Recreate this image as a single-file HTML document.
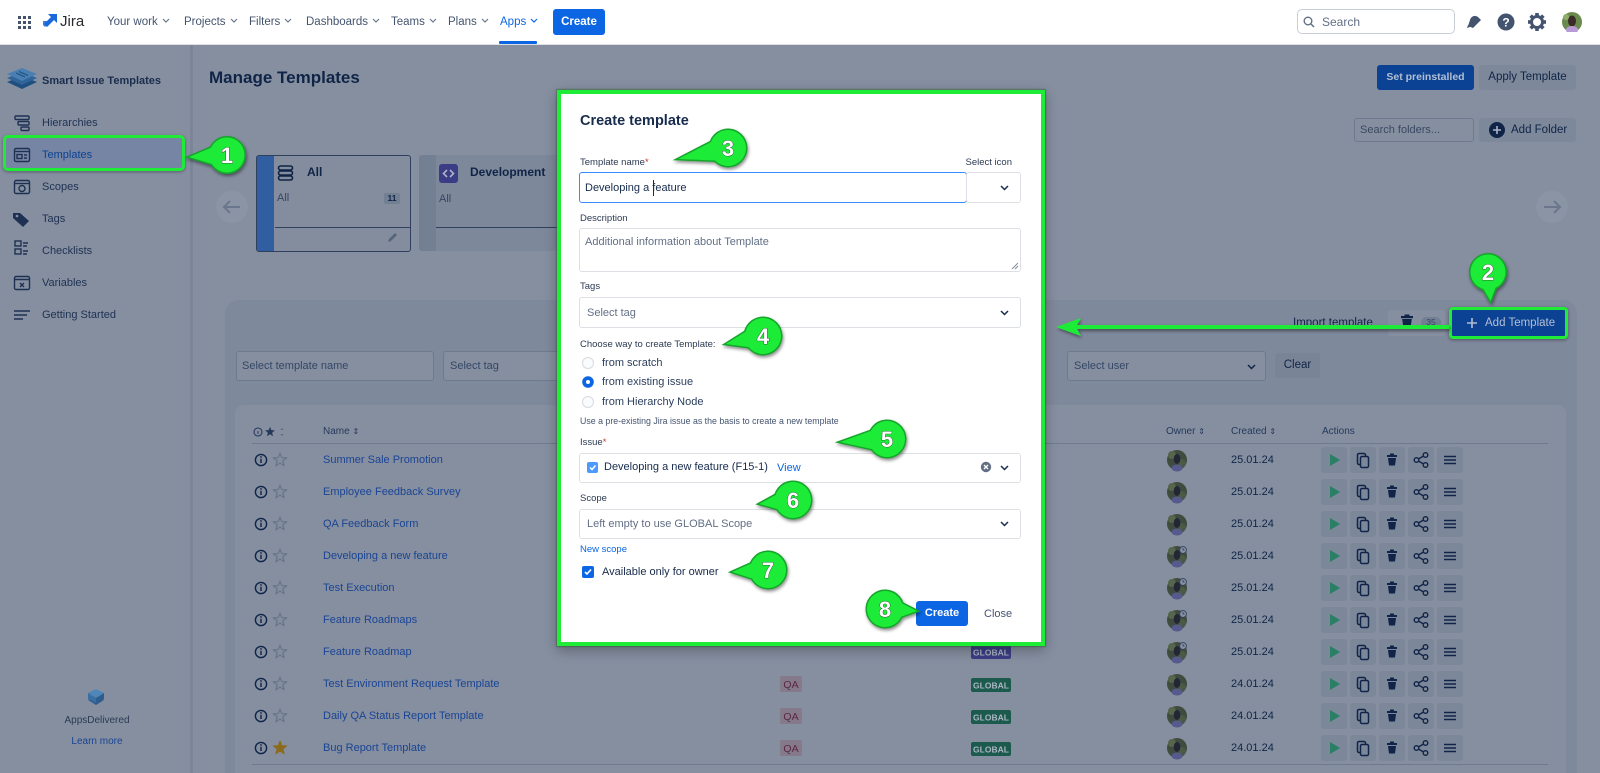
<!DOCTYPE html>
<html><head><meta charset="utf-8"><title>Create template</title>
<style>
*{margin:0;padding:0;box-sizing:border-box}
html,body{width:1600px;height:773px;overflow:hidden}
body{position:relative;background:#858fa0;font-family:"Liberation Sans",Arial,sans-serif;color:#102447}
.a{position:absolute}
.t{position:absolute;white-space:nowrap;line-height:14px;height:14px}
.nav{font-size:11.5px;color:#44546f}
.sb{font-size:11px;color:#1f3152}
.nm{font-size:11px;color:#1a4494}
.dt{font-size:11px;color:#102447}
.hd{font-size:10px;color:#26395a}
.lb{font-size:9.5px;color:#2c3a52}
.in{position:absolute;background:#fff;border:1px solid #dcdfe4;border-radius:3px}
.mt{font-size:11px;color:#172b4d}
.ph{font-size:11px;color:#626f86}
.fi{position:absolute;border:1px solid #6e7a8f;border-radius:3px;background:#858fa0}
.gbtn{position:absolute;background:#7d889a;border-radius:3px;font-size:11.5px;color:#102447;text-align:center}
</style></head><body>

<!-- top nav -->
<div class="a" style="left:0;top:0;width:1600px;height:45px;background:#fff;border-bottom:1px solid #dcdfe4"></div>
<svg class="a" style="left:18px;top:16px" width="13" height="13"><g fill="#44546f"><rect x="0" y="0" width="3" height="3"/><rect x="5" y="0" width="3" height="3"/><rect x="10" y="0" width="3" height="3"/><rect x="0" y="5" width="3" height="3"/><rect x="5" y="5" width="3" height="3"/><rect x="10" y="5" width="3" height="3"/><rect x="0" y="10" width="3" height="3"/><rect x="5" y="10" width="3" height="3"/><rect x="10" y="10" width="3" height="3"/></g></svg>
<svg class="a" style="left:41px;top:13px" width="17" height="18"><g fill="#1868db"><path d="M7 1h9v9l-3-3-7 7-3-3 7-7z"/><path d="M2 8h6v2l-4 4-2-2z" opacity=".85"/></g></svg>
<div class="t" style="left:60px;top:14px;font-size:15px;line-height:16px;height:16px;color:#292a2e">Jira</div>
<div class="t nav" style="left:107px;top:15px">Your work<svg width="8" height="5" style="margin-left:4px;vertical-align:2px"><path d="M1 1l3 3 3-3" fill="none" stroke="#6b778c" stroke-width="1.2"/></svg></div>
<div class="t nav" style="left:184px;top:15px">Projects<svg width="8" height="5" style="margin-left:4px;vertical-align:2px"><path d="M1 1l3 3 3-3" fill="none" stroke="#6b778c" stroke-width="1.2"/></svg></div>
<div class="t nav" style="left:249px;top:15px">Filters<svg width="8" height="5" style="margin-left:4px;vertical-align:2px"><path d="M1 1l3 3 3-3" fill="none" stroke="#6b778c" stroke-width="1.2"/></svg></div>
<div class="t nav" style="left:306px;top:15px">Dashboards<svg width="8" height="5" style="margin-left:4px;vertical-align:2px"><path d="M1 1l3 3 3-3" fill="none" stroke="#6b778c" stroke-width="1.2"/></svg></div>
<div class="t nav" style="left:391px;top:15px">Teams<svg width="8" height="5" style="margin-left:4px;vertical-align:2px"><path d="M1 1l3 3 3-3" fill="none" stroke="#6b778c" stroke-width="1.2"/></svg></div>
<div class="t nav" style="left:448px;top:15px">Plans<svg width="8" height="5" style="margin-left:4px;vertical-align:2px"><path d="M1 1l3 3 3-3" fill="none" stroke="#6b778c" stroke-width="1.2"/></svg></div>
<div class="t nav" style="left:500px;top:15px;color:#0c66e4">Apps<svg width="8" height="5" style="margin-left:4px;vertical-align:2px"><path d="M1 1l3 3 3-3" fill="none" stroke="#0c66e4" stroke-width="1.2"/></svg></div>
<div class="a" style="left:499px;top:41px;width:38px;height:3px;background:#0c66e4;border-radius:1px"></div>
<div class="a" style="left:553px;top:9px;width:52px;height:26px;background:#0c66e4;border-radius:3px;color:#fff;font-size:11.5px;font-weight:bold;line-height:26px;text-align:center">Create</div>

<div class="a" style="left:1297px;top:9px;width:158px;height:25px;border:1px solid #c9ced6;border-radius:5px;background:#fff"></div>
<svg class="a" style="left:1303px;top:16px" width="12" height="12"><circle cx="5" cy="5" r="3.8" fill="none" stroke="#626f86" stroke-width="1.4"/><path d="M8 8l3 3" stroke="#626f86" stroke-width="1.5"/></svg>
<div class="t" style="left:1322px;top:15px;font-size:12px;color:#626f86">Search</div>
<svg class="a" style="left:1464px;top:12px" width="20" height="20"><path d="M4 14l2-6a5 5 0 0 1 8 -3l3 3-8 8z" fill="#44546f"/><path d="M3 16l3-1-2-2z" fill="#44546f"/></svg>
<svg class="a" style="left:1497px;top:13px" width="18" height="18"><circle cx="9" cy="9" r="8.5" fill="#44546f"/><text x="9" y="13.5" text-anchor="middle" font-family="Liberation Sans" font-weight="bold" font-size="12" fill="#fff">?</text></svg>
<svg class="a" style="left:1528px;top:13px" width="18" height="18"><g transform="translate(9,9)"><circle r="5.5" fill="none" stroke="#44546f" stroke-width="3"/><g fill="#44546f"><rect x="-1.8" y="-9" width="3.6" height="4"/><rect x="-1.8" y="5" width="3.6" height="4"/><rect x="-9" y="-1.8" width="4" height="3.6"/><rect x="5" y="-1.8" width="4" height="3.6"/><rect x="-1.8" y="-9" width="3.6" height="4" transform="rotate(45)"/><rect x="-1.8" y="5" width="3.6" height="4" transform="rotate(45)"/><rect x="-9" y="-1.8" width="4" height="3.6" transform="rotate(45)"/><rect x="5" y="-1.8" width="4" height="3.6" transform="rotate(45)"/></g></g></svg>
<svg class="a" style="left:1562px;top:12px" width="20" height="20"><circle cx="10" cy="10" r="10" fill="#6b8a4e"/><ellipse cx="10" cy="9" rx="4" ry="5.5" fill="#3a2a28"/><ellipse cx="10" cy="18" rx="6" ry="4" fill="#b79ad6"/><circle cx="4" cy="5" r="3" fill="#8fae6a"/></svg>

<!-- sidebar -->
<div class="a" style="left:190px;top:45px;width:3px;height:728px;background:#7b8597"></div>
<svg class="a" style="left:7px;top:67px" width="31" height="25"><polygon points="15,9 30,15 15,22 0,15" fill="#1f4f80"/><polygon points="15,5 30,11 15,18 0,11" fill="#2f6399"/><polygon points="15,1 30,7 15,14 0,7" fill="#4a7fb3"/><path d="M9 6l9 4M12 4.5l9 4" stroke="#1f4f80" stroke-width="1.2"/></svg>
<div class="t" style="left:42px;top:74px;font-size:11px;font-weight:bold;color:#1b2c4c">Smart Issue Templates</div>

<div class="a" style="left:3px;top:135px;width:182px;height:36px;border:3px solid #1fec37;border-radius:5px;background:#7685a3;box-shadow:0 1px 3px rgba(0,0,0,.35)"></div>

<svg class="a" style="left:0;top:100px" width="40" height="230">
<g fill="none" stroke="#1f3152" stroke-width="1.4">
<rect x="15" y="16" width="14" height="3.5" rx="1"/><rect x="18" y="21.5" width="11" height="3.5" rx="1"/><rect x="21" y="27" width="8" height="3.5" rx="1"/>
<rect x="14.5" y="48.5" width="15" height="13" rx="1.5"/><path d="M14.5 51.5h15"/><rect x="17" y="54.5" width="5" height="4"/><path d="M24 55h3M24 58h3"/>
<rect x="14.5" y="80.5" width="15" height="13" rx="1.5"/><path d="M14.5 83.5h15"/><circle cx="22" cy="88.5" r="3"/>
<rect x="15" y="141" width="6" height="5"/><rect x="15" y="149" width="6" height="5"/><path d="M23 143h5M23 146h4M23 151h5M23 154h4"/>
<rect x="14.5" y="176.5" width="15" height="13" rx="1.5"/><path d="M14.5 179.5h15M20 183l4 4M24 183l-4 4"/>
<path d="M14 211h16M14 215h13M14 219h9"/>
</g>
<path d="M13 113h7l9 8-6 6-10-9z" fill="#1f3152"/><circle cx="17" cy="116" r="1.3" fill="#858fa0"/>
</svg>

<div class="t sb" style="left:42px;top:116px">Hierarchies</div>
<div class="t sb" style="left:42px;top:148px;color:#0b4293">Templates</div>
<div class="t sb" style="left:42px;top:180px">Scopes</div>
<div class="t sb" style="left:42px;top:212px">Tags</div>
<div class="t sb" style="left:42px;top:244px">Checklists</div>
<div class="t sb" style="left:42px;top:276px">Variables</div>
<div class="t sb" style="left:42px;top:308px">Getting Started</div>

<svg class="a" style="left:87px;top:688px" width="18" height="20"><polygon points="9,8 17,12 9,17 1,12" fill="#2c5d8e"/><polygon points="9,1 17,5 9,10 1,5" fill="#4f86b8"/><polygon points="1,5 9,10 9,15 1,11" fill="#3a6fa3"/><polygon points="17,5 9,10 9,15 17,11" fill="#2c5d8e"/></svg>
<div class="t" style="left:47px;top:714px;width:100px;text-align:center;font-size:10px;color:#2b3a55">AppsDelivered</div>
<div class="t" style="left:47px;top:735px;width:100px;text-align:center;font-size:10px;color:#1a4494">Learn more</div>

<!-- main header -->
<div class="t" style="left:209px;top:68px;height:20px;line-height:20px;font-size:17px;font-weight:bold;color:#102447">Manage Templates</div>
<div class="a" style="left:1377px;top:65px;width:97px;height:25px;background:#0b4293;border-radius:3px;color:#b3bfd3;font-size:10.5px;font-weight:bold;line-height:25px;text-align:center">Set preinstalled</div>
<div class="gbtn" style="left:1479px;top:65px;width:97px;height:25px;line-height:25px">Apply Template</div>
<div class="fi" style="left:1354px;top:118px;width:120px;height:24px"></div>
<div class="t" style="left:1360px;top:123px;font-size:11px;color:#3a4862">Search folders...</div>
<div class="gbtn" style="left:1479px;top:118px;width:97px;height:24px"></div>
<svg class="a" style="left:1488px;top:121px" width="18" height="18"><circle cx="9" cy="9" r="8" fill="#102447"/><path d="M9 5v8M5 9h8" stroke="#a9b4c8" stroke-width="1.6"/></svg>
<div class="t" style="left:1511px;top:123px;font-size:11.5px;color:#102447">Add Folder</div>

<!-- cards & arrows -->
<svg class="a" style="left:0;top:0" width="1600" height="300">
<circle cx="232" cy="207" r="16" fill="#8a94a5"/>
<path d="M224 207h16M230 201l-6 6 6 6" fill="none" stroke="#6a768b" stroke-width="2"/>
<circle cx="1552" cy="207" r="16" fill="#8a94a5"/>
<path d="M1560 207h-16M1554 201l6 6-6 6" fill="none" stroke="#6a768b" stroke-width="2"/>
</svg>
<div class="a" style="left:256px;top:155px;width:155px;height:97px;background:#838d9e;border:1px solid #2f3f5e;border-radius:3px;overflow:hidden"><div style="position:absolute;left:0;top:0;width:17px;height:100%;background:#305ea1"></div><div style="position:absolute;left:18px;top:71px;width:140px;height:1px;background:#2f3f5e"></div></div>
<svg class="a" style="left:277px;top:164px" width="18" height="18"><g fill="none" stroke="#102447" stroke-width="1.6"><rect x="1.5" y="2" width="14" height="4" rx="2"/><rect x="1.5" y="7" width="14" height="4" rx="2"/><rect x="1.5" y="12" width="14" height="4" rx="2"/></g></svg>
<div class="t" style="left:307px;top:165px;font-size:12px;font-weight:bold;color:#102447">All</div>
<div class="t" style="left:277px;top:191px;font-size:11px;color:#354664">All</div>
<div class="a" style="left:384px;top:193px;width:16px;height:11px;background:#737f93;border-radius:2px;font-size:8.5px;font-weight:bold;line-height:11px;text-align:center;color:#102447">11</div>
<svg class="a" style="left:386px;top:232px" width="12" height="12"><path d="M2 10l1-3 6-6 2 2-6 6z" fill="#56647c"/></svg>

<div class="a" style="left:419px;top:155px;width:150px;height:96px;background:#7d889a;border-radius:3px;overflow:hidden"><div style="position:absolute;left:0;top:0;width:17px;height:100%;background:#737f93"></div><div style="position:absolute;left:17px;top:72px;width:140px;height:1px;background:#2f3f5e"></div></div>
<svg class="a" style="left:439px;top:164px" width="20" height="20"><rect width="19" height="19" rx="3" fill="#3b3c85"/><path d="M8 6l-3.5 3.5L8 13M11 6l3.5 3.5L11 13" fill="none" stroke="#aab3c6" stroke-width="1.6"/></svg>
<div class="t" style="left:470px;top:165px;font-size:12px;font-weight:bold;color:#102447">Development</div>
<div class="t" style="left:439px;top:192px;font-size:11px;color:#354664">All</div>

<!-- panel -->
<div class="a" style="left:225px;top:300px;width:1352px;height:473px;background:#7f899c;border-radius:14px 14px 0 0"></div>
<div class="t" style="left:1293px;top:316px;font-size:11.5px;color:#102447">Import template</div>
<div class="a" style="left:1388px;top:310px;width:57px;height:26px;background:#858fa0;border-radius:3px"></div>
<svg class="a" style="left:1400px;top:314px" width="14" height="16"><rect x="1" y="2" width="12" height="2.2" fill="#102447"/><rect x="4.5" y="0.5" width="5" height="2" fill="#102447"/><path d="M2.2 5h9.6l-1.2 9H3.4z" fill="#102447"/></svg>
<div class="a" style="left:1421px;top:317px;width:20px;height:11px;background:#737f93;border-radius:6px;font-size:8.5px;line-height:11px;text-align:center;color:#354664">35</div>
<div class="a" style="left:1449px;top:307px;width:119px;height:32px;border:3px solid #1fec37;border-radius:4px;background:#0b4293;box-shadow:0 1px 3px rgba(0,0,0,.4)"></div>
<svg class="a" style="left:1466px;top:317px" width="12" height="12"><path d="M6 1v10M1 6h10" stroke="#b3bfd3" stroke-width="1.6"/></svg>
<div class="t" style="left:1485px;top:316px;font-size:11.5px;color:#b3bfd3">Add Template</div>

<div class="fi" style="left:236px;top:351px;width:198px;height:30px"></div>
<div class="t" style="left:242px;top:359px;font-size:11px;color:#354664">Select template name</div>
<div class="fi" style="left:443px;top:351px;width:200px;height:30px"></div>
<div class="t" style="left:450px;top:359px;font-size:11px;color:#354664">Select tag</div>
<div class="fi" style="left:1067px;top:351px;width:199px;height:30px"></div>
<div class="t" style="left:1074px;top:359px;font-size:11px;color:#354664">Select user</div>
<svg class="a" style="left:1247px;top:364px" width="9" height="6"><path d="M1 1l3.5 3.5L8 1" fill="none" stroke="#102447" stroke-width="1.5"/></svg>
<div class="gbtn" style="left:1275px;top:353px;width:45px;height:25px;line-height:25px;background:#7a8497">Clear</div>

<!-- inner table card -->
<div class="a" style="left:235px;top:405px;width:1331px;height:368px;background:#858fa0;border-radius:8px 8px 0 0"></div>
<div class="a" style="left:252px;top:443px;width:1296px;height:1px;background:#6e7a8f"></div>
<div class="a" style="left:252px;top:764px;width:1296px;height:1px;background:#6e7a8f"></div>
<div class="t hd" style="left:323px;top:425px">Name <span style="font-size:8px">&#8661;</span></div>
<div class="t hd" style="left:1166px;top:425px">Owner <span style="font-size:8px">&#8661;</span></div>
<div class="t hd" style="left:1231px;top:425px">Created <span style="font-size:8px">&#8661;</span></div>
<div class="t hd" style="left:1322px;top:425px">Actions</div>

<svg class="a" style="left:0;top:0" width="1600" height="773">
<defs>
<g id="inf"><circle r="5.6" fill="none" stroke="#102447" stroke-width="1.4"/><rect x="-0.7" y="-1.2" width="1.4" height="4.2" fill="#102447"/><circle cy="-3" r="0.9" fill="#102447"/></g>
<polygon id="st" points="0,-7 1.76,-2.43 6.66,-2.16 2.85,0.93 4.11,5.66 0,3 -4.11,5.66 -2.85,0.93 -6.66,-2.16 -1.76,-2.43" fill="none" stroke="#6a768b" stroke-width="1.3" stroke-linejoin="round"/>
<g id="av"><circle r="10" fill="#3f4b3e"/><circle cx="-5" cy="-5" r="4" fill="#55664c"/><circle cx="5" cy="3" r="4" fill="#4a5a44"/><ellipse cx="0" cy="-1" rx="3.3" ry="5" fill="#232634"/><ellipse cx="0" cy="8" rx="5.5" ry="3.5" fill="#56598c"/></g>
<g id="ck"><circle cx="6" cy="-6" r="3.4" fill="#8590a2" stroke="#2f3f5e" stroke-width="0.9"/><path d="M6 -8v2h1.5" fill="none" stroke="#2f3f5e" stroke-width="0.8"/></g>
<g id="acts">
<rect width="26" height="26" rx="3" fill="#7d879a"/>
<polygon points="9,7 19,13 9,19" fill="#2a8064"/>
<rect x="29" width="26" height="26" rx="3" fill="#7d879a"/>
<rect x="36.5" y="6.5" width="8" height="11" rx="1.5" fill="none" stroke="#102447" stroke-width="1.5"/>
<rect x="39.5" y="9.5" width="8" height="11" rx="1.5" fill="#7d879a" stroke="#102447" stroke-width="1.5"/>
<rect x="58" width="26" height="26" rx="3" fill="#7d879a"/>
<rect x="66" y="8" width="10" height="2" fill="#102447"/><rect x="69" y="6.5" width="4" height="2" fill="#102447"/>
<path d="M67 11h8l-1 7.5h-6z" fill="#102447"/>
<rect x="87" width="26" height="26" rx="3" fill="#7d879a"/>
<path d="M104.5 8 95.5 13 104.5 18" fill="none" stroke="#102447" stroke-width="1.4"/>
<circle cx="104.5" cy="8" r="2.3" fill="#7d879a" stroke="#102447" stroke-width="1.4"/>
<circle cx="95.5" cy="13" r="2.3" fill="#7d879a" stroke="#102447" stroke-width="1.4"/>
<circle cx="104.5" cy="18" r="2.3" fill="#7d879a" stroke="#102447" stroke-width="1.4"/>
<rect x="116" width="26" height="26" rx="3" fill="#7d879a"/>
<path d="M123 9.5h12M123 13h12M123 16.5h12" stroke="#102447" stroke-width="1.6"/>
</g>
</defs>
<!-- header icons -->
<g transform="translate(258,432)"><circle r="4" fill="none" stroke="#26395a" stroke-width="1.1"/><rect x="-0.5" y="-1" width="1" height="3" fill="#26395a"/></g>
<polygon transform="translate(270,432) scale(0.75)" points="0,-7 1.76,-2.43 6.66,-2.16 2.85,0.93 4.11,5.66 0,3 -4.11,5.66 -2.85,0.93 -6.66,-2.16 -1.76,-2.43" fill="#26395a"/>
<path d="M280.5 430l1.5-2 1.5 2zM280.5 434l1.5 2 1.5-2z" fill="#5a6780"/>

<use href="#inf" x="261" y="460"/><use href="#st" x="280" y="460"/><use href="#av" x="1177" y="460"/><use href="#acts" x="1321" y="447"/>
<use href="#inf" x="261" y="492"/><use href="#st" x="280" y="492"/><use href="#av" x="1177" y="492"/><use href="#acts" x="1321" y="479"/>
<use href="#inf" x="261" y="524"/><use href="#st" x="280" y="524"/><use href="#av" x="1177" y="524"/><use href="#acts" x="1321" y="511"/>
<use href="#inf" x="261" y="556"/><use href="#st" x="280" y="556"/><use href="#av" x="1177" y="556"/><use href="#ck" x="1177" y="556"/><use href="#acts" x="1321" y="543"/>
<use href="#inf" x="261" y="588"/><use href="#st" x="280" y="588"/><use href="#av" x="1177" y="588"/><use href="#ck" x="1177" y="588"/><use href="#acts" x="1321" y="575"/>
<use href="#inf" x="261" y="620"/><use href="#st" x="280" y="620"/><use href="#av" x="1177" y="620"/><use href="#ck" x="1177" y="620"/><use href="#acts" x="1321" y="607"/>
<use href="#inf" x="261" y="652"/><use href="#st" x="280" y="652"/><use href="#av" x="1177" y="652"/><use href="#ck" x="1177" y="652"/><use href="#acts" x="1321" y="639"/>
<use href="#inf" x="261" y="684"/><use href="#st" x="280" y="684"/><use href="#av" x="1177" y="684"/><use href="#acts" x="1321" y="671"/>
<use href="#inf" x="261" y="716"/><use href="#st" x="280" y="716"/><use href="#av" x="1177" y="716"/><use href="#acts" x="1321" y="703"/>
<use href="#inf" x="261" y="748"/><polygon transform="translate(280,748)" points="0,-7 1.76,-2.43 6.66,-2.16 2.85,0.93 4.11,5.66 0,3 -4.11,5.66 -2.85,0.93 -6.66,-2.16 -1.76,-2.43" fill="#8c6a1e" stroke="#8c6a1e" stroke-width="1" stroke-linejoin="round"/><use href="#av" x="1177" y="748"/><use href="#acts" x="1321" y="735"/>

<!-- tags -->
<rect x="971" y="645" width="40" height="14" rx="2" fill="#3c3e84"/>
<rect x="780" y="676" width="22" height="16" rx="2" fill="#847a8a"/><rect x="971" y="678" width="40" height="14" rx="2" fill="#1d5a4e"/>
<rect x="780" y="708" width="22" height="16" rx="2" fill="#847a8a"/><rect x="971" y="710" width="40" height="14" rx="2" fill="#1d5a4e"/>
<rect x="780" y="740" width="22" height="16" rx="2" fill="#847a8a"/><rect x="971" y="742" width="40" height="14" rx="2" fill="#1d5a4e"/>
<g font-family="Liberation Sans" font-size="8.5" font-weight="bold" fill="#a9b6c2" text-anchor="middle">
<text x="991" y="655.5">GLOBAL</text><text x="991" y="688.5">GLOBAL</text><text x="991" y="720.5">GLOBAL</text><text x="991" y="752.5">GLOBAL</text>
</g>
<g font-family="Liberation Sans" font-size="10.5" fill="#5c2645" text-anchor="middle">
<text x="791" y="688">QA</text><text x="791" y="720">QA</text><text x="791" y="752">QA</text>
</g>
</svg>

<div class="t nm" style="left:323px;top:453px">Summer Sale Promotion</div>
<div class="t nm" style="left:323px;top:485px">Employee Feedback Survey</div>
<div class="t nm" style="left:323px;top:517px">QA Feedback Form</div>
<div class="t nm" style="left:323px;top:549px">Developing a new feature</div>
<div class="t nm" style="left:323px;top:581px">Test Execution</div>
<div class="t nm" style="left:323px;top:613px">Feature Roadmaps</div>
<div class="t nm" style="left:323px;top:645px">Feature Roadmap</div>
<div class="t nm" style="left:323px;top:677px">Test Environment Request Template</div>
<div class="t nm" style="left:323px;top:709px">Daily QA Status Report Template</div>
<div class="t nm" style="left:323px;top:741px">Bug Report Template</div>

<div class="t dt" style="left:1231px;top:453px">25.01.24</div>
<div class="t dt" style="left:1231px;top:485px">25.01.24</div>
<div class="t dt" style="left:1231px;top:517px">25.01.24</div>
<div class="t dt" style="left:1231px;top:549px">25.01.24</div>
<div class="t dt" style="left:1231px;top:581px">25.01.24</div>
<div class="t dt" style="left:1231px;top:613px">25.01.24</div>
<div class="t dt" style="left:1231px;top:645px">25.01.24</div>
<div class="t dt" style="left:1231px;top:677px">24.01.24</div>
<div class="t dt" style="left:1231px;top:709px">24.01.24</div>
<div class="t dt" style="left:1231px;top:741px">24.01.24</div>

<!-- modal -->
<div class="a" style="left:557px;top:90px;width:488px;height:556px;background:#fff;border:4px solid #1fec37;box-shadow:0 0 1px 1px rgba(40,90,40,.5),0 4px 12px rgba(0,0,0,.3)"></div>
<div class="t" style="left:580px;top:112px;height:18px;line-height:18px;font-size:14.5px;font-weight:bold;color:#172b4d">Create template</div>

<div class="t lb" style="left:580px;top:156px">Template name<span style="color:#c9372c">*</span></div>
<div class="t lb" style="right:588px;top:156px">Select icon</div>
<div class="in" style="left:579px;top:172px;width:388px;height:31px;border-color:#388bff"></div>
<div class="in" style="left:966px;top:172px;width:55px;height:31px"></div>
<div class="t mt" style="left:585px;top:181px">Developing a feature</div>
<div class="a" style="left:653px;top:180px;width:1px;height:16px;background:#172b4d"></div>

<div class="t lb" style="left:580px;top:212px">Description</div>
<div class="in" style="left:579px;top:228px;width:442px;height:44px"></div>
<div class="t ph" style="left:585px;top:235px">Additional information about Template</div>
<svg class="a" style="left:1010px;top:261px" width="9" height="9"><path d="M8 2L2 8M8 5L5 8" stroke="#8590a2" stroke-width="1"/></svg>

<div class="t lb" style="left:580px;top:280px">Tags</div>
<div class="in" style="left:579px;top:297px;width:442px;height:31px"></div>
<div class="t ph" style="left:587px;top:306px">Select tag</div>

<div class="t lb" style="left:580px;top:338px">Choose way to create Template:</div>
<svg class="a" style="left:580px;top:354px" width="16" height="56"><circle cx="8" cy="9" r="5.5" fill="#fafbfc" stroke="#dcdfe4" stroke-width="1.2"/><circle cx="8" cy="28" r="5.8" fill="#0c66e4"/><circle cx="8" cy="28" r="2" fill="#fff"/><circle cx="8" cy="48" r="5.5" fill="#fafbfc" stroke="#dcdfe4" stroke-width="1.2"/></svg>
<div class="t mt" style="left:602px;top:356px;color:#2c3e5d">from scratch</div>
<div class="t mt" style="left:602px;top:375px;color:#2c3e5d">from existing issue</div>
<div class="t mt" style="left:602px;top:395px;color:#2c3e5d">from Hierarchy Node</div>
<div class="t" style="left:580px;top:414px;font-size:8.8px;color:#44546f">Use a pre-existing Jira issue as the basis to create a new template</div>

<div class="t lb" style="left:580px;top:436px">Issue<span style="color:#c9372c">*</span></div>
<div class="in" style="left:579px;top:453px;width:442px;height:30px"></div>
<svg class="a" style="left:587px;top:462px" width="12" height="12"><rect width="11" height="11" rx="2" fill="#4c9aff"/><path d="M3 5.5l2 2 3.5-4" fill="none" stroke="#fff" stroke-width="1.5"/></svg>
<div class="t mt" style="left:604px;top:460px">Developing a new feature (F15-1)</div>
<div class="t" style="left:777px;top:461px;font-size:11px;color:#0c66e4">View</div>
<svg class="a" style="left:980px;top:461px" width="12" height="12"><circle cx="6" cy="6" r="5.2" fill="#626f86"/><path d="M4 4l4 4M8 4l-4 4" stroke="#fff" stroke-width="1.3"/></svg>

<div class="t lb" style="left:580px;top:492px">Scope</div>
<div class="in" style="left:579px;top:509px;width:442px;height:30px"></div>
<div class="t ph" style="left:587px;top:517px">Left empty to use GLOBAL Scope</div>
<div class="t" style="left:580px;top:543px;font-size:9.5px;color:#0c66e4">New scope</div>

<svg class="a" style="left:582px;top:566px" width="13" height="13"><rect width="12" height="12" rx="2" fill="#0c66e4"/><path d="M3 6l2 2 4-4.5" fill="none" stroke="#fff" stroke-width="1.6"/></svg>
<div class="t mt" style="left:602px;top:565px">Available only for owner</div>

<div class="a" style="left:916px;top:601px;width:52px;height:25px;background:#0c66e4;border-radius:3px;color:#fff;font-size:11px;font-weight:bold;line-height:25px;text-align:center">Create</div>
<div class="t" style="left:984px;top:607px;font-size:11px;color:#44546f">Close</div>

<svg class="a" style="left:0;top:0" width="1600" height="773">
<g fill="none" stroke="#172b4d" stroke-width="1.5">
<path d="M1001 186l3.5 3.5 3.5-3.5"/><path d="M1001 311l3.5 3.5 3.5-3.5"/><path d="M1001 466l3.5 3.5 3.5-3.5"/><path d="M1001 522l3.5 3.5 3.5-3.5"/>
</g>
</svg>

<!-- annotations -->
<svg class="a" style="left:0;top:0" width="1600" height="773">
<defs><filter id="sh" x="-30%" y="-30%" width="160%" height="160%"><feDropShadow dx="1" dy="2" stdDeviation="1.5" flood-color="#000" flood-opacity="0.45"/></filter></defs>
<g filter="url(#sh)">
<path d="M1449 327H1072" stroke="#1fec37" stroke-width="4"/>
<polygon points="1056,327 1081,318 1076,327 1081,336" fill="#1fec37"/>
</g>
<g filter="url(#sh)">
<g stroke="#12a42a" stroke-width="3" fill="#12a42a">
<g transform="translate(227,155) rotate(177)"><path d="M2,-13 L38,0 L2,13Z"/><circle r="17.5"/></g>
<g transform="translate(1488,272) rotate(85)"><path d="M2,-13 L29,0 L2,13Z"/><circle r="17.5"/></g>
<g transform="translate(728,148) rotate(167.6)"><path d="M2,-13 L51,0 L2,13Z"/><circle r="18"/></g>
<g transform="translate(763,336) rotate(167.8)"><path d="M2,-13 L38,0 L2,13Z"/><circle r="18"/></g>
<g transform="translate(887,439) rotate(176.3)"><path d="M2,-13 L47,0 L2,13Z"/><circle r="18"/></g>
<g transform="translate(793,500) rotate(173.3)"><path d="M2,-13 L34,0 L2,13Z"/><circle r="18"/></g>
<g transform="translate(768,570) rotate(176.8)"><path d="M2,-13 L36,0 L2,13Z"/><circle r="18"/></g>
<g transform="translate(885,609) rotate(3.6)"><path d="M2,-13 L32,0 L2,13Z"/><circle r="18"/></g>
</g>
<g fill="#1fec37">
<g transform="translate(227,155) rotate(177)"><path d="M2,-13 L38,0 L2,13Z"/><circle r="17.5"/></g>
<g transform="translate(1488,272) rotate(85)"><path d="M2,-13 L29,0 L2,13Z"/><circle r="17.5"/></g>
<g transform="translate(728,148) rotate(167.6)"><path d="M2,-13 L51,0 L2,13Z"/><circle r="18"/></g>
<g transform="translate(763,336) rotate(167.8)"><path d="M2,-13 L38,0 L2,13Z"/><circle r="18"/></g>
<g transform="translate(887,439) rotate(176.3)"><path d="M2,-13 L47,0 L2,13Z"/><circle r="18"/></g>
<g transform="translate(793,500) rotate(173.3)"><path d="M2,-13 L34,0 L2,13Z"/><circle r="18"/></g>
<g transform="translate(768,570) rotate(176.8)"><path d="M2,-13 L36,0 L2,13Z"/><circle r="18"/></g>
<g transform="translate(885,609) rotate(3.6)"><path d="M2,-13 L32,0 L2,13Z"/><circle r="18"/></g>
</g>
</g>
<g font-family="Liberation Sans" font-weight="bold" font-size="22" fill="#fff" stroke="#2d4a2d" stroke-width="0.8" paint-order="stroke" text-anchor="middle">
<text x="227" y="163">1</text>
<text x="1488" y="280">2</text>
<text x="728" y="156">3</text>
<text x="763" y="344">4</text>
<text x="887" y="447">5</text>
<text x="793" y="508">6</text>
<text x="768" y="578">7</text>
<text x="885" y="617">8</text>
</g>
</svg>
</body></html>
